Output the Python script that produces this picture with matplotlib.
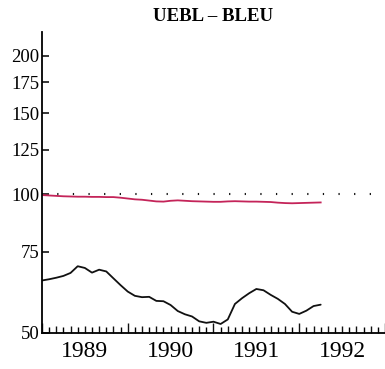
import matplotlib
matplotlib.use("Agg")
import matplotlib.pyplot as plt
import matplotlib.transforms as mtransforms
from matplotlib.ticker import FixedLocator, NullFormatter, NullLocator
import numpy as np

# monthly series starting January 1989
start_year = 1989
black_vals = [65.0, 65.4, 65.9, 66.5, 67.5, 69.8, 69.2, 67.6, 68.6, 68.0,
              65.7, 63.5, 61.5, 60.2, 59.8, 59.9, 58.7, 58.6, 57.5, 55.8,
              54.9, 54.3, 53.0, 52.6, 52.9, 52.3, 53.5, 57.8, 59.5, 61.0,
              62.3, 61.9, 60.5, 59.3, 57.8, 55.6, 55.0, 55.9, 57.2, 57.6]
red_vals = [99.6, 99.4, 99.2, 99.0, 98.9, 98.8, 98.8, 98.7, 98.7, 98.6,
            98.6, 98.3, 97.9, 97.5, 97.3, 96.9, 96.5, 96.4, 96.8, 97.0,
            96.8, 96.6, 96.5, 96.4, 96.3, 96.3, 96.5, 96.6, 96.5, 96.4,
            96.4, 96.3, 96.2, 95.9, 95.7, 95.6, 95.7, 95.8, 95.9, 96.0]
ref_level = 100
y_ticks = [50, 75, 100, 125, 150, 175, 200]
year_labels = ["1989", "1990", "1991", "1992"]
title = "UEBL \u2013 BLEU"

x = start_year + np.arange(len(black_vals)) / 12.0

fig = plt.figure(figsize=(3.85, 3.69), dpi=100)
ax = fig.add_axes([0.109, 0.0976, 0.891, 0.8157])

ax.plot(x, black_vals, color="#111111", lw=1.3, solid_capstyle="round")
ax.plot(x, red_vals, color="#c42459", lw=1.3)
ax.axhline(ref_level, color="#111111", lw=1.5, linestyle=(0.2, (0.6, 6.9)))

ax.set_yscale("log")
ax.set_ylim(50, 225)
ax.set_xlim(1989, 1993)

ax.yaxis.set_major_locator(FixedLocator(y_ticks))
ax.yaxis.set_minor_locator(NullLocator())
ax.yaxis.set_minor_formatter(NullFormatter())
ax.set_yticklabels([str(v) for v in y_ticks], family="Liberation Serif",
                   fontsize=13.5)
ax.tick_params(axis="y", direction="in", length=5, width=1.1, pad=2)

# year labels sit in the middle of each year
ax.xaxis.set_major_locator(FixedLocator([1989.5, 1990.5, 1991.5, 1992.5]))
ax.set_xticklabels(year_labels, family="Liberation Serif", fontsize=17)
ax.tick_params(axis="x", which="major", length=0, pad=6)

# monthly ticks: short / medium alternating, tall at the year boundaries
months = start_year + np.arange(0, 49) / 12.0
ax.xaxis.set_minor_locator(FixedLocator(list(months[1::2])))
ax.tick_params(axis="x", which="minor", direction="in", length=4, width=1.0)
trans = mtransforms.blended_transform_factory(ax.transData, ax.transAxes)
for xv in months[0::2]:
    h = 0.032 if abs(xv - round(xv)) < 1e-6 else 0.022
    ax.plot([xv, xv], [0, h], transform=trans, color="#111111", lw=1.0,
            clip_on=False, solid_capstyle="butt")

for side in ["top", "right"]:
    ax.spines[side].set_visible(False)
ax.spines["left"].set_linewidth(1.3)
ax.spines["bottom"].set_linewidth(1.3)

fig.text(0.553, 0.955, title, ha="center", va="center",
         family="Liberation Serif", fontsize=13.5, fontweight="bold")

fig.savefig("out.png", dpi=100)
